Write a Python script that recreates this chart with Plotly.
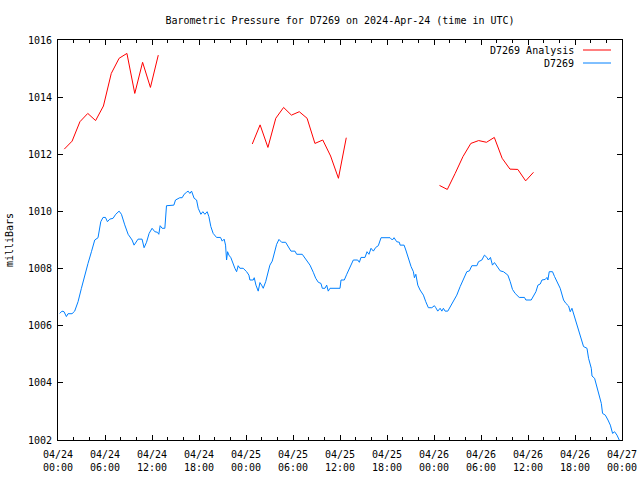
import plotly.graph_objects as go

# ---- data (time in hours since 2024-04-24 00:00 UTC, pressure in mbar) ----
analysis_hours_1 = [0.8 + k for k in range(13)]
analysis_vals_1 = [1012.18, 1012.46, 1013.14, 1013.43, 1013.18, 1013.69, 1014.83,
                   1015.36, 1015.53, 1014.13, 1015.22, 1014.34, 1015.47]
analysis_hours_2 = [24.8 + k for k in range(13)]
analysis_vals_2 = [1012.36, 1013.03, 1012.24, 1013.26, 1013.64, 1013.37, 1013.49,
                   1013.26, 1012.38, 1012.50, 1011.94, 1011.16, 1012.58]
analysis_hours_3 = [48.7 + k for k in range(13)]
analysis_vals_3 = [1010.91, 1010.77, 1011.33, 1011.92, 1012.38, 1012.48, 1012.42,
                   1012.59, 1011.86, 1011.48, 1011.47, 1011.07, 1011.37]

obs_hours = [
    0.22, 0.51, 0.77, 1.07, 1.28, 1.79, 2.13, 2.56, 2.99, 3.41, 3.83, 4.27, 4.69, 5.11,
    5.46, 5.75, 6.06, 6.31, 6.61, 7.03, 7.37, 7.80, 8.10, 8.52, 8.95, 9.46, 9.71, 10.22,
    10.73, 10.99, 11.30, 11.63, 12.01, 12.36, 12.70, 12.87, 13.04, 13.29, 13.64, 13.85,
    14.27, 14.79, 15.00, 15.55, 15.85, 16.10, 16.41, 16.61, 16.83, 17.05, 17.38, 17.69,
    17.90, 18.24, 18.49, 18.75, 19.04, 19.26, 19.51, 19.81, 20.24, 20.75, 20.96, 21.21,
    21.39, 21.52, 21.65, 21.82, 22.07, 22.36, 22.58, 22.80, 23.00, 23.22, 23.64, 24.08,
    24.37, 24.50, 24.92, 25.05, 25.27, 25.56, 25.78, 25.99, 26.20, 26.51, 26.76, 27.05,
    27.35, 27.60, 27.91, 28.21, 28.55, 29.06, 29.39, 29.74, 30.25, 30.47, 31.18, 31.53,
    32.17, 32.59, 32.90, 33.23, 33.57, 33.74, 34.08, 34.30, 34.50, 34.72, 36.00, 36.13,
    36.55, 36.86, 37.28, 37.70, 38.26, 38.47, 38.68, 39.19, 39.45, 39.70, 39.96, 40.26,
    40.56, 40.89, 41.24, 42.39, 42.68, 42.90, 43.24, 43.58, 43.67, 44.18, 44.40, 44.73,
    45.07, 45.37, 45.50, 45.68, 45.93, 46.22, 46.65, 46.95, 47.28, 47.72, 48.05, 48.23,
    48.48, 48.78, 49.00, 49.20, 49.42, 49.76, 50.06, 50.48, 50.91, 51.34, 51.76, 52.19,
    52.52, 52.83, 53.47, 53.68, 54.11, 54.44, 54.75, 54.95, 55.21, 55.46, 55.72, 56.03,
    56.45, 56.87, 57.18, 57.43, 57.73, 58.02, 58.36, 58.88, 59.55, 59.73, 60.41, 60.70,
    61.01, 61.27, 61.56, 61.78, 62.20, 62.42, 62.54, 62.71, 63.13, 63.39, 63.69, 64.11,
    64.54, 64.84, 65.18, 65.39, 65.61, 65.81, 66.03, 66.45, 66.80, 67.09, 67.53, 67.73,
    68.08, 68.17, 68.50, 68.81, 69.10, 69.36, 69.52, 69.87, 70.21, 70.51, 70.80, 71.05,
    71.36, 71.65,
]
obs_vals = [
    1006.43, 1006.51, 1006.49, 1006.32, 1006.42, 1006.42, 1006.51, 1006.84, 1007.31, 1007.77,
    1008.18, 1008.59, 1009.00, 1009.08, 1009.64, 1009.79, 1009.79, 1009.64, 1009.73, 1009.76,
    1009.90, 1010.01, 1009.90, 1009.53, 1009.20, 1009.00, 1008.82, 1009.03, 1009.03, 1008.73,
    1008.92, 1009.23, 1009.41, 1009.29, 1009.27, 1009.20, 1009.50, 1009.41, 1009.41, 1010.20,
    1010.22, 1010.22, 1010.40, 1010.48, 1010.48, 1010.60, 1010.67, 1010.71, 1010.63, 1010.71,
    1010.46, 1010.40, 1010.11, 1009.90, 1009.99, 1009.90, 1009.99, 1009.82, 1009.47, 1009.23,
    1009.09, 1009.09, 1008.96, 1009.03, 1008.82, 1008.30, 1008.59, 1008.47, 1008.38, 1008.12,
    1008.01, 1007.89, 1008.10, 1008.01, 1008.01, 1007.89, 1007.77, 1007.60, 1007.60, 1007.68,
    1007.42, 1007.21, 1007.51, 1007.42, 1007.31, 1007.54, 1007.83, 1008.12, 1008.26, 1008.53,
    1008.85, 1009.02, 1008.92, 1008.92, 1008.77, 1008.61, 1008.61, 1008.50, 1008.50, 1008.36,
    1008.12, 1007.87, 1007.66, 1007.52, 1007.48, 1007.31, 1007.31, 1007.42, 1007.21, 1007.31,
    1007.31, 1007.60, 1007.60, 1007.80, 1008.07, 1008.30, 1008.30, 1008.22, 1008.39, 1008.39,
    1008.59, 1008.50, 1008.71, 1008.61, 1008.74, 1008.80, 1009.08, 1009.08, 1009.00, 1009.08,
    1008.94, 1008.92, 1008.82, 1008.82, 1008.65, 1008.36, 1008.07, 1007.89, 1007.68, 1007.80,
    1007.42, 1007.25, 1007.07, 1006.84, 1006.63, 1006.63, 1006.70, 1006.63, 1006.51, 1006.61,
    1006.51, 1006.61, 1006.51, 1006.51, 1006.67, 1006.86, 1007.07, 1007.37, 1007.63, 1007.89,
    1007.92, 1008.10, 1008.10, 1008.24, 1008.30, 1008.47, 1008.39, 1008.30, 1008.39, 1008.12,
    1008.21, 1008.07, 1007.92, 1007.89, 1007.81, 1007.77, 1007.54, 1007.27, 1007.13, 1006.99,
    1006.99, 1006.90, 1006.90, 1007.02, 1007.19, 1007.42, 1007.46, 1007.60, 1007.62, 1007.69,
    1007.60, 1007.89, 1007.89, 1007.72, 1007.54, 1007.31, 1006.90, 1006.78, 1006.69, 1006.49,
    1006.61, 1006.43, 1006.26, 1005.91, 1005.56, 1005.27, 1005.21, 1004.86, 1004.51, 1004.24,
    1004.16, 1003.87, 1003.51, 1003.28, 1002.93, 1002.87, 1002.70, 1002.52, 1002.23, 1002.29,
    1002.17, 1002.00,
]

x_tick_vals = [0, 6, 12, 18, 24, 30, 36, 42, 48, 54, 60, 66, 72]
x_tick_text = ["04/24<br>00:00", "04/24<br>06:00", "04/24<br>12:00", "04/24<br>18:00",
               "04/25<br>00:00", "04/25<br>06:00", "04/25<br>12:00", "04/25<br>18:00",
               "04/26<br>00:00", "04/26<br>06:00", "04/26<br>12:00", "04/26<br>18:00",
               "04/27<br>00:00"]
y_tick_vals = [1002, 1004, 1006, 1008, 1010, 1012, 1014, 1016]

RED = "#ff0000"
BLUE = "#0080ff"
FONT = "DejaVu Sans Mono"

analysis_x = analysis_hours_1 + [None] + analysis_hours_2 + [None] + analysis_hours_3
analysis_y = analysis_vals_1 + [None] + analysis_vals_2 + [None] + analysis_vals_3

fig = go.Figure()
fig.add_trace(go.Scatter(x=analysis_x, y=analysis_y, mode="lines", name="D7269 Analysis",
                         line=dict(color=RED, width=1), connectgaps=False))
fig.add_trace(go.Scatter(x=obs_hours, y=obs_vals, mode="lines", name="D7269",
                         line=dict(color=BLUE, width=1)))

fig.update_layout(
    width=640, height=480,
    margin=dict(l=58, r=18, t=40, b=40),
    paper_bgcolor="white", plot_bgcolor="white",
    showlegend=False,
    font=dict(family=FONT, size=10, color="black"),
    title=dict(text="Barometric Pressure for D7269 on 2024-Apr-24 (time in UTC)",
               x=340 / 640, xanchor="center", y=1 - 20 / 480, yanchor="middle",
               font=dict(family=FONT, size=10, color="black")),
)
fig.update_xaxes(
    range=[0, 72], tickvals=x_tick_vals, ticktext=x_tick_text, automargin=False,
    showgrid=False, zeroline=False, showline=True, linecolor="black", linewidth=1,
    mirror="ticks", ticks="inside", ticklen=5, tickcolor="black", tickwidth=1,
    minor=dict(dtick=2, tick0=0, ticks="inside", ticklen=3, tickcolor="black", showgrid=False),
    tickfont=dict(family=FONT, size=10, color="black"),
    ticklabelstandoff=5,
)
fig.update_yaxes(
    range=[1002, 1016], tickvals=y_tick_vals, automargin=False,
    showgrid=False, zeroline=False, showline=True, linecolor="black", linewidth=1,
    mirror="ticks", ticks="inside", ticklen=5, tickcolor="black", tickwidth=1,
    tickfont=dict(family=FONT, size=10, color="black"),
    ticklabelstandoff=3,
    title=dict(text="milliBars", font=dict(family=FONT, size=10, color="black"), standoff=12),
)

# gnuplot-style key: text right-aligned, line sample to its right
legend_items = [("D7269 Analysis", RED, 50), ("D7269", BLUE, 63)]
for label, color, ypix in legend_items:
    yp = 1 - (ypix - 40) / 400
    fig.add_annotation(text=label, xref="paper", yref="paper", x=(576 - 58) / 564, y=yp,
                       xanchor="right", yanchor="middle", showarrow=False,
                       font=dict(family=FONT, size=10, color="black"))
    fig.add_shape(type="line", xref="paper", yref="paper",
                  x0=(583 - 58) / 564, x1=(611 - 58) / 564, y0=yp, y1=yp,
                  line=dict(color=color, width=1))

fig.write_html("out.html")
